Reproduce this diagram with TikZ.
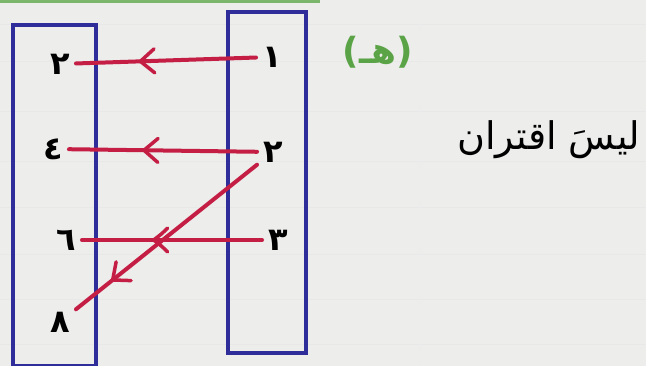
\documentclass[tikz,border=0pt]{standalone}
\usepackage{fontspec}
\newfontfamily\arabicfont[Script=Arabic]{DejaVu Sans}
\TeXXeTstate=1
\usetikzlibrary{decorations.markings}
\definecolor{inkblue}{HTML}{2E2D9A}
\definecolor{inkred}{HTML}{C41E45}
\definecolor{inkgreen}{HTML}{5BA347}
\definecolor{paper}{HTML}{EDEDEB}
\begin{document}
\begin{tikzpicture}[x=1pt,y=-1pt,
  num/.style={font=\arabicfont\bfseries\fontsize{32}{36}\selectfont,inner sep=6pt},
  set/.style={draw=inkblue,line width=4pt},
  link/.style={draw=inkred,line width=4pt,line cap=round,postaction={decorate},
    decoration={markings,mark=at position #1 with {\draw[inkred,line width=3.5pt,line cap=round,line join=round]
      (-10pt,12pt) .. controls (-4pt,6pt) .. (4pt,0pt) .. controls (-4pt,-6pt) .. (-10pt,-12pt);}}},
  link/.default=0.6]
\fill[paper] (0,0) rectangle (646,366);
\useasboundingbox (0,0) rectangle (646,366);
\fill[inkgreen!80] (0,0) rectangle (320,3);
% ruled paper
\foreach \y in {25,62,112,162,208,255,300,345}
  \draw[gray!18,line width=1pt] (0,\y) -- (646,\y);
\draw[gray!15,line width=1pt] (420,0) -- (420,366);
% the two sets
\draw[set] (13,25) rectangle (96,366);
\draw[set] (228,12) rectangle (306,353);
% elements
\node[num] (r1) at (272,57) {١};
\node[num] (r2) at (273,152) {٢};
\node[num] (r3) at (278,240) {٣};
\node[num] (l2) at (60,64) {٢};
\node[num] (l4) at (53,149) {٤};
\node[num] (l6) at (66,240) {٦};
\node[num] (l8) at (60,322) {٨};
% mappings
\draw[link=0.62] (r1) -- (l2);
\draw[link=0.58] (r2) -- (l4);
\draw[link=0.58] (r3) -- (l6);
\draw[link=0.78] (r2) -- (l8);
\node[font=\arabicfont\bfseries\fontsize{36}{40}\selectfont,text=inkgreen] (part) at (378,52) {\beginR(هـ)\endR};
\node[font=\arabicfont\fontsize{38}{44}\selectfont,anchor=east] (verdict) at (644,140) {\beginR ليسَ اقتران\endR};
\end{tikzpicture}
\end{document}
